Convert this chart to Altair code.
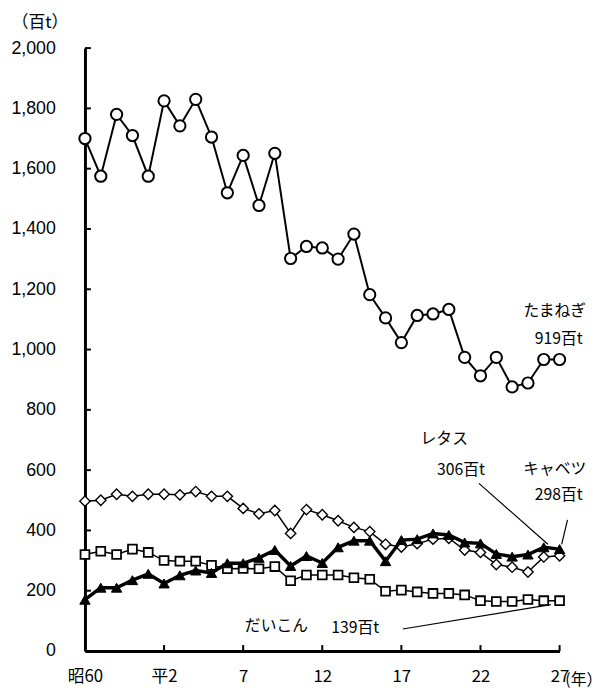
import altair as alt
import pandas as pd

years = list(range(1985, 2016))
tamanegi = [1700, 1575, 1780, 1710, 1575, 1825, 1742, 1830, 1705, 1520, 1644, 1478, 1651, 1302,
            1342, 1337, 1300, 1383, 1182, 1105, 1023, 1113, 1118, 1133, 974, 913, 974, 876, 889, 967, 967]
cabbage = [497, 500, 520, 513, 520, 520, 518, 529, 513, 513, 473, 455, 466, 390,
           469, 452, 432, 410, 396, 354, 345, 356, 371, 374, 335, 327, 287, 278, 262, 312, 316]
lettuce = [170, 210, 210, 235, 256, 224, 251, 267, 259, 291, 291, 309, 335, 282,
           315, 292, 344, 366, 366, 298, 368, 371, 390, 385, 360, 357, 322, 313, 320, 344, 338]
daikon = [320, 331, 320, 338, 327, 300, 298, 298, 284, 273, 274, 273, 280, 233,
          252, 252, 252, 243, 238, 198, 202, 196, 191, 191, 186, 167, 164, 164, 171, 167, 167]

y_ticks = list(range(0, 2001, 200))
x_ticks = [1985, 1990, 1995, 2000, 2005, 2010, 2015]
x_labels = ["昭60", "平2", "7", "12", "17", "22", "27"]

ann_text = ["たまねぎ", "919百t", "レタス", "306百t", "キャベツ", "298百t", "だいこん", "139百t"]
ann_year = [2014.69, 2014.94, 2007.71, 2008.77, 2014.69, 2014.94, 1997.1, 2002.09]
ann_value = [1126, 1034, 704, 599, 602, 517, 82, 75]

lead_id = ["a", "a", "b", "b", "c", "c"]
lead_year = [2009.9, 2014.26, 2015.5, 2015.13, 2005.09, 2014.45]
lead_value = [556, 354, 435, 354, 73, 154]

W, H = 481, 611
JP = "Noto Sans CJK JP"

expr = "''"
for v, lab in reversed(list(zip(x_ticks, x_labels))):
    expr = f"datum.value == {v} ? '{lab}' : ({expr})"

X = alt.X("year:Q",
          scale=alt.Scale(domain=[1985, 2015], nice=False, zero=False),
          axis=alt.Axis(values=x_ticks, labelExpr=expr, grid=False, ticks=False, tickSize=0,
                        labelFlush=False, labelPadding=18, labelFont=JP, labelFontSize=17,
                        labelColor="black", domainColor="black", domainWidth=3,
                        title="(年）", titleFont=JP, titleFontSize=16, titleFontWeight="normal",
                        titleX=505, titleY=29, titleAlign="center", titleBaseline="middle",
                        titleColor="black"))
Y = alt.Y("value:Q",
          scale=alt.Scale(domain=[0, 2000], nice=False),
          axis=alt.Axis(values=y_ticks, format=",.0f", grid=False, ticks=False, tickSize=0,
                        labelFlush=False, labelPadding=30, labelFont="Liberation Sans",
                        labelFontSize=18, labelColor="black", domainColor="black", domainWidth=3,
                        title="（百t）", titleFont=JP, titleFontSize=17, titleFontWeight="normal",
                        titleAngle=0, titleX=-46, titleY=-26, titleAlign="center",
                        titleBaseline="middle", titleColor="black"))


def series(vals, shape, fill, size, lw, pw):
    df = pd.DataFrame({"year": years, "value": vals})
    base = alt.Chart(df).encode(x=X, y=Y)
    line = base.mark_line(color="black", strokeWidth=lw)
    pts = base.mark_point(shape=shape, filled=True, fill=fill, stroke="black",
                          strokeWidth=pw, size=size, opacity=1)
    return [line, pts]


layers = []
layers += series(tamanegi, "circle", "white", 130, 2, 2)
layers += series(daikon, "square", "white", 80, 1.5, 1.8)
layers += series(cabbage, "diamond", "white", 110, 1.5, 1.4)
layers += series(lettuce, "triangle-up", "black", 110, 3.5, 1)

ytick_df = pd.DataFrame({"value": y_ticks})
layers.append(alt.Chart(ytick_df).mark_rule(color="black", strokeWidth=2).encode(
    y=Y, x=alt.value(0), x2=alt.value(6)))
xtick_df = pd.DataFrame({"year": x_ticks})
layers.append(alt.Chart(xtick_df).mark_rule(color="black", strokeWidth=2).encode(
    x=X, y=alt.value(H), y2=alt.value(H - 6)))

lead_df = pd.DataFrame({"id": lead_id, "year": lead_year, "value": lead_value})
layers.append(alt.Chart(lead_df).mark_line(color="black", strokeWidth=1.2).encode(
    x=X, y=Y, detail="id:N"))

ann_df = pd.DataFrame({"text": ann_text, "year": ann_year, "value": ann_value})
layers.append(alt.Chart(ann_df).mark_text(font=JP, fontSize=16, color="black",
                                          align="center", baseline="middle").encode(
    x=X, y=Y, text="text:N"))

chart = alt.layer(*layers).properties(
    width=W, height=H,
    autosize=alt.AutoSizeParams(type="none"),
    padding={"left": 78, "top": 36, "right": 44, "bottom": 43},
).configure_view(stroke=None)

chart.save("out.html", embed_options={"renderer": "svg", "actions": False})
